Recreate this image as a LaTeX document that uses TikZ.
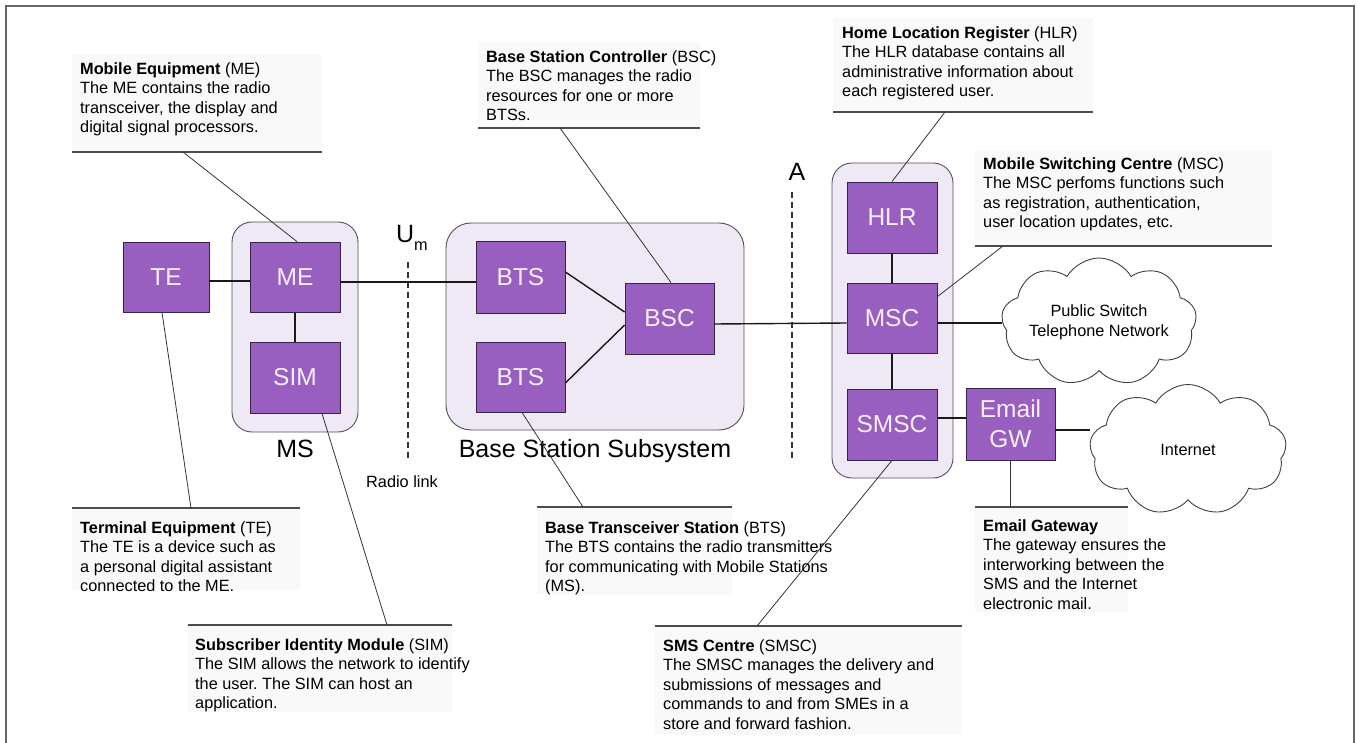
\documentclass[tikz,border=0pt]{standalone}
\usepackage{fontspec}
\setmainfont{Liberation Sans}
\usetikzlibrary{shapes.symbols}

\definecolor{boxfill}{RGB}{152,94,192}
\definecolor{boxline}{RGB}{55,35,75}
\definecolor{groupfill}{RGB}{239,232,245}
\definecolor{groupline}{RGB}{80,80,88}
\definecolor{boxtext}{RGB}{247,240,252}
\definecolor{notefill}{RGB}{249,249,249}

\frenchspacing
\begin{document}
\begin{tikzpicture}[x=1pt,y=-1pt,
  unit/.style={draw=boxline, fill=boxfill, line width=0.8pt, inner sep=0pt,
    text=boxtext, font=\fontsize{24.5}{30}\selectfont, align=center},
  group/.style={draw=groupline, fill=groupfill, rounded corners=20pt,
    line width=0.9pt, inner sep=0pt},
  link/.style={line width=1.4pt, black!90},
  leader/.style={line width=0.8pt, black!80},
  rulebar/.style={line width=1.1pt, black!70},
  border/.style={dashed, dash pattern=on 6pt off 4pt, line width=1.2pt, black!80},
  note/.style={anchor=north west, align=left, inner sep=0pt,
    font=\fontsize{16.3}{19.5}\selectfont},
  biglabel/.style={inner sep=0pt, font=\fontsize{25}{30}\selectfont},
  net/.style={cloud, cloud puffs=9, cloud puff arc=120, cloud ignores aspect,
    draw=black!75, fill=white, line width=0.9pt, inner sep=0pt, align=center,
    font=\fontsize{16.3}{20}\selectfont},
]
\useasboundingbox (0,0) rectangle (1357,743);

% frame
\draw[line width=2pt, black!60] (6,760) -- (6,6) -- (1354,6) -- (1354,760);

% note backgrounds
\fill[notefill] (72,55) rectangle (322,152);
\fill[notefill] (478,42) rectangle (700,128);
\fill[notefill] (833,18) rectangle (1093,112);
\fill[notefill] (975,150) rectangle (1272,246);
\fill[notefill] (72,508) rectangle (300,590);
\fill[notefill] (188,625) rectangle (452,712);
\fill[notefill] (537,507) rectangle (732,595);
\fill[notefill] (655,626) rectangle (962,735);
\fill[notefill] (975,507) rectangle (1128,612);

% groups
\node[group, minimum width=126pt, minimum height=210pt] (msgrp) at (295,327) {};
\node[group, minimum width=298pt, minimum height=207pt, rounded corners=25pt] (bssgrp) at (595,326.5) {};
\node[group, minimum width=121pt, minimum height=315pt] (coregrp) at (892.5,320.5) {};

% network elements
\node[unit, minimum width=86pt, minimum height=70pt] (te) at (166,277) {TE};
\node[unit, minimum width=90pt, minimum height=70pt] (me) at (295,277) {ME};
\node[unit, minimum width=90pt, minimum height=71pt] (sim) at (295,377.5) {SIM};
\node[unit, minimum width=89pt, minimum height=72pt] (bts1) at (520.5,277) {BTS};
\node[unit, minimum width=89pt, minimum height=70pt] (bts2) at (520.5,377) {BTS};
\node[unit, minimum width=89pt, minimum height=71pt] (bsc) at (669.5,318.5) {BSC};
\node[unit, minimum width=90pt, minimum height=71pt] (hlr) at (892,217.5) {HLR};
\node[unit, minimum width=90pt, minimum height=70pt] (msc) at (892,318) {MSC};
\node[unit, minimum width=90pt, minimum height=71pt] (smsc) at (892,424.5) {SMSC};
\node[unit, minimum width=89pt, minimum height=72pt] (egw) at (1010.5,424) {Email\\GW};

% clouds
\node[net, minimum width=172pt, minimum height=128pt] (pstn) at (1099,322) {Public Switch\\Telephone Network};
\node[net, minimum width=197pt, minimum height=131pt] (inet) at (1188,450) {Internet};

% interfaces
\coordinate (umtop) at (408,262);
\coordinate (umbot) at (408,460);
\draw[border] (umtop) -- (umbot);
\coordinate (atop) at (792,192);
\coordinate (abot) at (792,460);
\draw[border] (atop) -- (abot);

% links
\coordinate (mscout) at ([yshift=-5pt]msc.east);
\coordinate (egwout) at ([yshift=-6pt]egw.east);
\draw[link] ([yshift=-4pt]te.east) -- ([yshift=-4pt]me.west);
\draw[link] ([yshift=-5pt]me.east) -- ([yshift=-5pt]bts1.west);
\draw[link] (me.south) -- (sim.north);
\draw[link] ([yshift=5pt]bts1.east) -- ([yshift=6.5pt]bsc.west);
\draw[link] ([yshift=-6pt]bts2.east) -- ([yshift=-6.5pt]bsc.west);
\draw[link] ([yshift=-5.5pt]bsc.east) -- ([yshift=-5pt]msc.west);
\draw[link] (hlr.south) -- (msc.north);
\draw[link] (msc.south) -- (smsc.north);
\draw[link] (mscout) -- (mscout -| pstn.west);
\draw[link] ([yshift=6.5pt]smsc.east) -- ([yshift=6pt]egw.west);
\draw[link] (egwout) -- (egwout -| inet.west);

% group labels
\node[biglabel] (mslbl) at (295,449) {MS};
\node[biglabel] (bsslbl) at (595,451) {Base Station Subsystem};
\node[inner sep=0pt, font=\fontsize{16.3}{20}\selectfont] (radiolbl) at (402,482) {Radio link};
\node[biglabel, anchor=base] (umlbl) at (412,243) {U\raisebox{-0.3em}{\fontsize{16.3}{16}\selectfont m}};
\node[biglabel] (albl) at (797,172) {A};

% callouts: rules
\coordinate (meL) at (72,152);   \coordinate (meR) at (322,152);  \coordinate (meT) at (183,152);
\coordinate (bscL) at (478,128); \coordinate (bscR) at (700,128); \coordinate (bscT) at (560,128);
\coordinate (hlrL) at (833,112); \coordinate (hlrR) at (1093,112); \coordinate (hlrT) at (945,112);
\coordinate (mscL) at (975,246); \coordinate (mscR) at (1272,246); \coordinate (mscT) at (1003,246);
\coordinate (teL) at (72,508);   \coordinate (teR) at (300,508);  \coordinate (teT) at (191,508);
\coordinate (simL) at (188,625); \coordinate (simR) at (452,625); \coordinate (simT) at (387,625);
\coordinate (btsL) at (537,507); \coordinate (btsR) at (732,507); \coordinate (btsT) at (583,507);
\coordinate (smscL) at (655,626); \coordinate (smscR) at (962,626); \coordinate (smscT) at (757,626);
\coordinate (egwL) at (975,507); \coordinate (egwR) at (1128,507); \coordinate (egwT) at (1010.5,507);

\foreach \c in {me,bsc,hlr,msc,te,sim,bts,smsc,egw}
  \draw[rulebar] (\c L) -- (\c R);

% callouts: leaders
\draw[leader] (meT) -- ([xshift=2pt]me.north);
\draw[leader] (bscT) -- ([xshift=1.5pt]bsc.north);
\draw[leader] (hlrT) -- (hlr.north);
\draw[leader] (mscT) -- ([yshift=-14pt]msc.north east);
\draw[leader] (teT) -- ([xshift=-4pt]te.south);
\draw[leader] (simT) -- ([xshift=27pt]sim.south);
\draw[leader] (btsT) -- ([xshift=1.5pt]bts2.south);
\draw[leader] (smscT) -- (smsc.south);
\draw[leader] (egwT) -- (egw.south);

% callouts: text
\node[note] (menote) at (80,62) {\textbf{Mobile Equipment} (ME)\\The ME contains the radio\\transceiver, the display and\\digital signal processors.};
\node[note] (bscnote) at (486,50) {\textbf{Base Station Controller} (BSC)\\The BSC manages the radio\\resources for one or more\\BTSs.};
\node[note] (hlrnote) at (842,26) {\textbf{Home Location Register} (HLR)\\The HLR database contains all\\administrative information about\\each registered user.};
\node[note] (mscnote) at (983,157) {\textbf{Mobile Switching Centre} (MSC)\\The MSC perfoms functions such\\as registration, authentication,\\user location updates, etc.};
\node[note] (tenote) at (80,521) {\textbf{Terminal Equipment} (TE)\\The TE is a device such as\\a personal digital assistant\\connected to the ME.};
\node[note] (simnote) at (195,638) {\textbf{Subscriber Identity Module} (SIM)\\The SIM allows the network to identify\\the user. The SIM can host an\\application.};
\node[note] (btsnote) at (545,521) {\textbf{Base Transceiver Station} (BTS)\\The BTS contains the radio transmitters\\for communicating with Mobile Stations\\(MS).};
\node[note] (smscnote) at (663,639) {\textbf{SMS Centre} (SMSC)\\The SMSC manages the delivery and\\submissions of messages and\\commands to and from SMEs in a\\store and forward fashion.};
\node[note] (egwnote) at (983,519) {\textbf{Email Gateway}\\The gateway ensures the\\interworking between the\\SMS and the Internet\\electronic mail.};
\end{tikzpicture}
\end{document}
